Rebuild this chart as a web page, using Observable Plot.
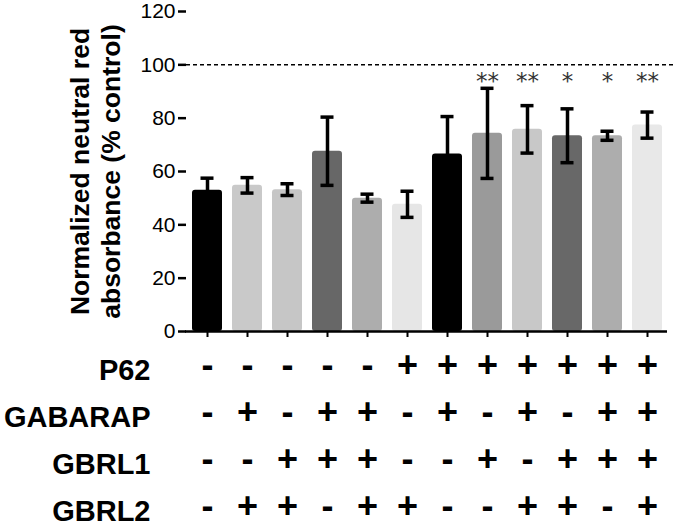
<!DOCTYPE html>
<html>
<head>
<meta charset="utf-8">
<script src="https://cdn.jsdelivr.net/npm/d3@7"></script>
<script src="https://cdn.jsdelivr.net/npm/@observablehq/plot@0.6"></script>
<style>
  html, body { margin: 0; padding: 0; background: #fff; }
  #chart { width: 675px; line-height: 0; }
  #chart svg { display: block; overflow: visible; }
</style>
</head>
<body>
<div id="chart"></div>
<script>
// ---- data ----
const rowNames = ["P62", "GABARAP", "GBRL1", "GBRL2"];
const p62     = ["-", "-", "-", "-", "-", "+", "+", "+", "+", "+", "+", "+"];
const gabarap = ["-", "+", "-", "+", "+", "-", "+", "-", "+", "-", "+", "+"];
const gbrl1   = ["-", "-", "+", "+", "+", "-", "-", "+", "-", "+", "+", "+"];
const gbrl2   = ["-", "+", "+", "-", "+", "+", "-", "-", "+", "+", "-", "+"];
const means   = [53, 54.8, 53.2, 67.6, 50, 47.7, 66.6, 74.3, 75.8, 73.4, 73.4, 77.4];
const errors  = [4.5, 2.9, 2.2, 12.8, 1.5, 4.9, 14, 16.9, 8.9, 10.1, 1.7, 4.9];
const colors  = ["#000000", "#c9c9c9", "#c6c6c6", "#676767", "#adadad", "#e6e6e6",
                 "#000000", "#9a9a9a", "#c8c8c8", "#686868", "#adadad", "#e8e8e8"];
const signif  = ["", "", "", "", "", "", "", "**", "**", "*", "*", "**"];
const yTicks  = [0, 20, 40, 60, 80, 100, 120];
const refLine = [100];
const yLabelLines = ["Normalized neutral red", "absorbance (% control)"];

// ---- derived tables ----
const signRows = [p62, gabarap, gbrl1, gbrl2];
const keys = means.map((_, i) => signRows.map(r => r[i]).join(""));
const bars = means.map((m, i) => ({key: keys[i], mean: m, lo: m - errors[i], hi: m + errors[i], color: colors[i], sig: signif[i]}));
const table = [];
rowNames.forEach((name, r) => keys.forEach((k, i) => table.push({key: k, row: name, sign: signRows[r][i]})));

const FONT = "'Liberation Sans', Arial, Helvetica, sans-serif";
const xOpts = {domain: keys, paddingInner: 0.25, paddingOuter: 0.125};
const W = 675, ML = 186, MR = 8;

const main = Plot.plot({
  width: W, height: 340,
  marginLeft: ML, marginRight: MR, marginTop: 11, marginBottom: 9,
  style: {fontFamily: FONT, background: "#fff", color: "#000"},
  x: {...xOpts, axis: null},
  y: {domain: [0, 120], axis: null},
  marks: [
    Plot.barY(bars, {x: "key", y: "mean", fill: "color", rx: 3}),
    Plot.ruleX(bars, {x: "key", y1: "lo", y2: "hi", stroke: "#000", strokeWidth: 3.5}),
    Plot.tickY(bars, {x: "key", y: "lo", stroke: "#000", strokeWidth: 3.5, insetLeft: 8.5, insetRight: 8.5}),
    Plot.tickY(bars, {x: "key", y: "hi", stroke: "#000", strokeWidth: 3.5, insetLeft: 8.5, insetRight: 8.5}),
    Plot.ruleY(refLine, {stroke: "#000", strokeWidth: 1.5, strokeDasharray: "4,3", insetRight: -8}),
    Plot.text(bars, {x: "key", y: () => refLine[0], text: "sig", lineAnchor: "top", dy: 8,
      fontFamily: "'DejaVu Sans', sans-serif", fontSize: 23, fill: "#333"}),
    Plot.axisY({ticks: yTicks, tickSize: 8, tickPadding: 3, fontSize: 21, strokeWidth: 2.5, line: true, label: null}),
    Plot.axisX({tickSize: 6, tickFormat: () => "", strokeWidth: 2, line: true, label: null}),
    Plot.ruleY([0], {stroke: "#000", strokeWidth: 2.5, insetLeft: -1}),
    Plot.text([yLabelLines[0]], {frameAnchor: "left", textAnchor: "middle", rotate: -90, lineAnchor: "bottom", dx: -98,
      fontSize: 26.5, fontWeight: "bold", fill: "#000"}),
    Plot.text([yLabelLines[1]], {frameAnchor: "left", textAnchor: "middle", rotate: -90, lineAnchor: "bottom", dx: -67,
      fontSize: 26.5, fontWeight: "bold", fill: "#000"})
  ]
});

const lower = Plot.plot({
  width: W, height: 186,
  marginLeft: ML, marginRight: MR, marginTop: 24, marginBottom: 19,
  style: {fontFamily: FONT, background: "#fff", color: "#000"},
  x: {...xOpts, axis: null},
  y: {type: "point", domain: rowNames, padding: 0, axis: null},
  marks: [
    Plot.text(table, {x: "key", y: "row", text: "sign", fontSize: 36, fontWeight: "bold", fill: "#000"}),
    Plot.axisY({tickSize: 0, tickPadding: 36, fontSize: 29, fontWeight: "bold", dy: 5, label: null})
  ]
});

document.getElementById("chart").append(main, lower);
</script>
</body>
</html>
